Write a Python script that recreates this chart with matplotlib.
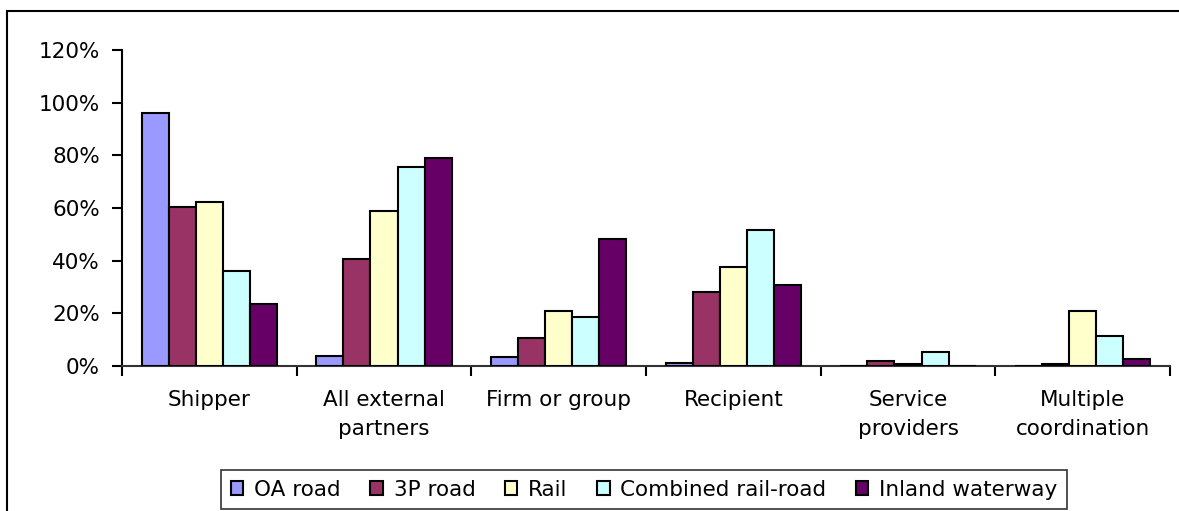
import matplotlib.pyplot as plt
import matplotlib.ticker as plticker
from matplotlib.patches import Rectangle
import numpy as np

### DATA ###
categories = ["Shipper", "All external\npartners", "Firm or group", "Recipient",
              "Service\nproviders", "Multiple\ncoordination"]
series_names = ["OA road", "3P road", "Rail", "Combined rail-road", "Inland waterway"]
oa_road = [96, 3.9, 3.4, 1.3, 0, 0]
tp_road = [60.4, 40.8, 10.8, 28.1, 2.0, 0.7]
rail = [62.3, 59.0, 20.9, 37.5, 0.8, 20.9]
combined = [36.2, 75.7, 18.7, 51.5, 5.3, 11.4]
inland = [23.4, 79.1, 48.2, 30.9, 0, 2.8]
colors = ["#9999FF", "#993366", "#FFFFCC", "#CCFFFF", "#660066"]

plt.rcParams['font.family'] = ['DejaVu Sans']

W, H = 1179, 511
fig = plt.figure(figsize=(W / 100, H / 100), dpi=100)
ax = fig.add_axes([122 / W, 1 - 366 / H, (1170 - 122) / W, (366 - 50) / H])

x = np.arange(len(categories))
width = 0.155
all_series = [oa_road, tp_road, rail, combined, inland]
for i, (vals, col, name) in enumerate(zip(all_series, colors, series_names)):
    ax.bar(x + (i - 2) * width, vals, width, color=col, edgecolor="black",
           linewidth=1.5, label=name, zorder=3)

ax.set_xlim(-0.5, len(categories) - 0.5)
ax.set_ylim(0, 120)
ax.yaxis.set_major_locator(plticker.MultipleLocator(20))
ax.yaxis.set_major_formatter(plticker.FuncFormatter(lambda v, p: "%d%%" % v))
ax.set_xticks(x)
ax.set_xticklabels(categories, fontsize=15.5, linespacing=1.6)
ax.set_xticks(np.arange(-0.5, len(categories)), minor=True)
ax.tick_params(axis="x", which="major", length=0, pad=17)
ax.tick_params(axis="x", which="minor", length=7, width=1.5, direction="out")
ax.tick_params(axis="y", labelsize=15.5, length=7, width=1.5, pad=9)
for s in ["top", "right"]:
    ax.spines[s].set_visible(False)
ax.spines["left"].set_linewidth(1.5)
ax.spines["bottom"].set_linewidth(1.5)
ax.spines["bottom"].set_color("#333333")

leg = fig.legend(loc="center", bbox_to_anchor=(644 / W, 1 - 489.5 / H), ncol=5,
                 frameon=True, fancybox=False, edgecolor="black",
                 prop={"size": 15.5},
                 handlelength=0.6, handleheight=0.6, handletextpad=0.5,
                 columnspacing=1.35, borderpad=0.45, borderaxespad=0)
leg.get_frame().set_linewidth(1.2)

# outer chart border (right and bottom edges fall outside the picture)
fig.patches.append(Rectangle((7 / W, -0.1), 1.1, 1.1 - 11 / H,
                             transform=fig.transFigure, fill=False,
                             edgecolor="black", linewidth=1.5))

plt.savefig("out.png", dpi=100)
